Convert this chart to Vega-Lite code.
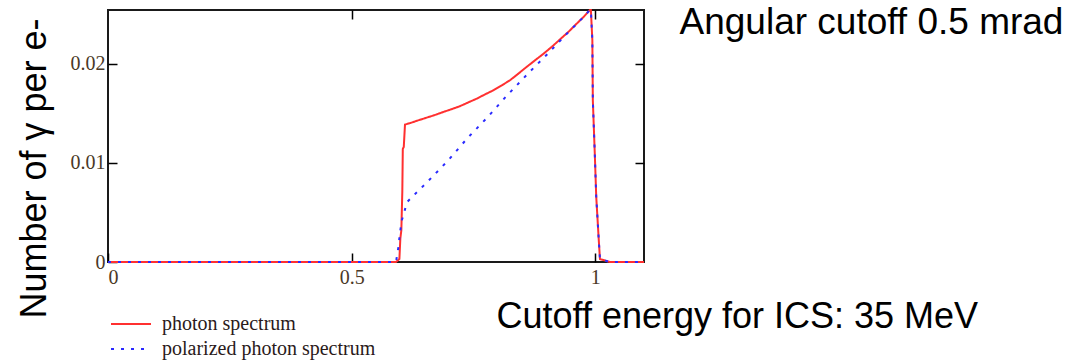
{
  "$schema": "https://vega.github.io/schema/vega-lite/v6.json",
  "width": 536,
  "height": 252,
  "autosize": {"type": "none"},
  "padding": {"left": 108, "top": 10, "right": 436, "bottom": 98},
  "background": "white",
  "config": {
    "view": {"stroke": "#1a1a1a", "strokeWidth": 2},
    "axis": {
      "grid": false,
      "domain": false,
      "tickColor": "#000000",
      "tickWidth": 1.5,
      "tickSize": -9,
      "labelFont": "Liberation Serif",
      "labelFontSize": 20,
      "labelColor": "#4a3826",
      "titleFont": "Liberation Sans",
      "titleFontSize": 36,
      "titleFontWeight": "normal",
      "titleColor": "#000000"
    }
  },
  "datasets": {
    "spec": [
      {"series": "photon spectrum", "e": 0, "n": 0},
      {"series": "photon spectrum", "e": 0.3, "n": 0},
      {"series": "photon spectrum", "e": 0.591, "n": 0},
      {"series": "photon spectrum", "e": 0.598, "n": 0.0003},
      {"series": "photon spectrum", "e": 0.6, "n": 0.0024},
      {"series": "photon spectrum", "e": 0.602, "n": 0.0032},
      {"series": "photon spectrum", "e": 0.604, "n": 0.0071},
      {"series": "photon spectrum", "e": 0.605, "n": 0.0114},
      {"series": "photon spectrum", "e": 0.607, "n": 0.0116},
      {"series": "photon spectrum", "e": 0.6095, "n": 0.01385},
      {"series": "photon spectrum", "e": 0.62, "n": 0.014},
      {"series": "photon spectrum", "e": 0.635, "n": 0.01425},
      {"series": "photon spectrum", "e": 0.654, "n": 0.01455},
      {"series": "photon spectrum", "e": 0.67, "n": 0.0148},
      {"series": "photon spectrum", "e": 0.688, "n": 0.01512},
      {"series": "photon spectrum", "e": 0.705, "n": 0.0154},
      {"series": "photon spectrum", "e": 0.722, "n": 0.0157},
      {"series": "photon spectrum", "e": 0.74, "n": 0.0161},
      {"series": "photon spectrum", "e": 0.757, "n": 0.01647},
      {"series": "photon spectrum", "e": 0.774, "n": 0.0169},
      {"series": "photon spectrum", "e": 0.791, "n": 0.01731},
      {"series": "photon spectrum", "e": 0.808, "n": 0.0178},
      {"series": "photon spectrum", "e": 0.825, "n": 0.01832},
      {"series": "photon spectrum", "e": 0.84, "n": 0.0189},
      {"series": "photon spectrum", "e": 0.855, "n": 0.0195},
      {"series": "photon spectrum", "e": 0.873, "n": 0.0202},
      {"series": "photon spectrum", "e": 0.894, "n": 0.0210},
      {"series": "photon spectrum", "e": 0.911, "n": 0.0217},
      {"series": "photon spectrum", "e": 0.928, "n": 0.02245},
      {"series": "photon spectrum", "e": 0.945, "n": 0.0232},
      {"series": "photon spectrum", "e": 0.962, "n": 0.02403},
      {"series": "photon spectrum", "e": 0.976, "n": 0.0247},
      {"series": "photon spectrum", "e": 0.989, "n": 0.0254},
      {"series": "photon spectrum", "e": 0.991, "n": 0.0254},
      {"series": "photon spectrum", "e": 0.994, "n": 0.02235},
      {"series": "photon spectrum", "e": 0.995, "n": 0.0163},
      {"series": "photon spectrum", "e": 0.999, "n": 0.01093},
      {"series": "photon spectrum", "e": 1.002, "n": 0.00655},
      {"series": "photon spectrum", "e": 1.007, "n": 0.00236},
      {"series": "photon spectrum", "e": 1.0096, "n": 0.0003},
      {"series": "photon spectrum", "e": 1.03, "n": 0},
      {"series": "photon spectrum", "e": 1.1, "n": 0},
      {"series": "polarized photon spectrum", "e": 0, "n": 0},
      {"series": "polarized photon spectrum", "e": 0.3, "n": 0},
      {"series": "polarized photon spectrum", "e": 0.591, "n": 0},
      {"series": "polarized photon spectrum", "e": 0.596, "n": 0.0015},
      {"series": "polarized photon spectrum", "e": 0.599, "n": 0.0029},
      {"series": "polarized photon spectrum", "e": 0.603, "n": 0.0042},
      {"series": "polarized photon spectrum", "e": 0.608, "n": 0.005},
      {"series": "polarized photon spectrum", "e": 0.613, "n": 0.006},
      {"series": "polarized photon spectrum", "e": 0.627, "n": 0.0067},
      {"series": "polarized photon spectrum", "e": 0.654, "n": 0.008},
      {"series": "polarized photon spectrum", "e": 0.697, "n": 0.01018},
      {"series": "polarized photon spectrum", "e": 0.738, "n": 0.0125},
      {"series": "polarized photon spectrum", "e": 0.778, "n": 0.01455},
      {"series": "polarized photon spectrum", "e": 0.818, "n": 0.01674},
      {"series": "polarized photon spectrum", "e": 0.863, "n": 0.01905},
      {"series": "polarized photon spectrum", "e": 0.904, "n": 0.02107},
      {"series": "polarized photon spectrum", "e": 0.945, "n": 0.02318},
      {"series": "polarized photon spectrum", "e": 0.97, "n": 0.0244},
      {"series": "polarized photon spectrum", "e": 0.989, "n": 0.0254},
      {"series": "polarized photon spectrum", "e": 0.991, "n": 0.0254},
      {"series": "polarized photon spectrum", "e": 0.994, "n": 0.02235},
      {"series": "polarized photon spectrum", "e": 0.995, "n": 0.0163},
      {"series": "polarized photon spectrum", "e": 0.999, "n": 0.01093},
      {"series": "polarized photon spectrum", "e": 1.002, "n": 0.00655},
      {"series": "polarized photon spectrum", "e": 1.007, "n": 0.00236},
      {"series": "polarized photon spectrum", "e": 1.0096, "n": 0.0003},
      {"series": "polarized photon spectrum", "e": 1.03, "n": 0},
      {"series": "polarized photon spectrum", "e": 1.1, "n": 0}
    ]
  },
  "data": {"name": "spec"},
  "layer": [
    {
      "mark": {"type": "line", "strokeWidth": 2},
      "encoding": {
        "x": {
          "field": "e",
          "type": "quantitative",
          "scale": {"domain": [0, 1.1], "nice": false, "zero": true},
          "axis": {
            "orient": "bottom",
            "values": [0, 0.5, 1],
            "format": "~g",
            "labelPadding": 14,
            "title": "Cutoff energy for ICS: 35 MeV",
            "titleX": 388,
            "titleY": 65,
            "titleAlign": "left",
            "titleAnchor": null,
            "titleBaseline": "alphabetic",
            "titleAngle": 0
          }
        },
        "y": {
          "field": "n",
          "type": "quantitative",
          "scale": {"domain": [0, 0.0254], "nice": false},
          "axis": {
            "orient": "left",
            "values": [0, 0.01, 0.02],
            "format": "~g",
            "labelPadding": 12,
            "title": "Number of γ per e-",
            "titleX": -63,
            "titleY": 158,
            "titleAngle": -90,
            "titleAlign": "center",
            "titleBaseline": "alphabetic"
          }
        },
        "color": {
          "field": "series",
          "type": "nominal",
          "scale": {
            "domain": ["photon spectrum", "polarized photon spectrum"],
            "range": ["#ff3030", "#2a2aff"]
          },
          "legend": {
            "orient": "none",
            "legendX": 12,
            "legendY": 303,
            "title": null,
            "padding": 0,
            "symbolType": "M-2,0H2",
            "symbolSize": 400,
            "symbolStrokeWidth": 2,
            "labelOffset": 20,
            "labelLimit": 400,
            "labelFont": "Liberation Serif",
            "labelFontSize": 20,
            "labelColor": "#2a1a1a",
            "rowPadding": 4
          }
        },
        "strokeDash": {
          "field": "series",
          "type": "nominal",
          "scale": {
            "domain": ["photon spectrum", "polarized photon spectrum"],
            "range": [[1, 0], [3, 7]]
          },
          "legend": {
            "orient": "none",
            "legendX": 12,
            "legendY": 303,
            "title": null,
            "padding": 0,
            "symbolType": "M-2,0H2",
            "symbolSize": 400,
            "symbolStrokeWidth": 2,
            "labelOffset": 20,
            "labelLimit": 400,
            "labelFont": "Liberation Serif",
            "labelFontSize": 20,
            "labelColor": "#2a1a1a",
            "rowPadding": 4
          }
        }
      }
    },
    {
      "mark": {"type": "line", "opacity": 0},
      "encoding": {
        "x": {
          "field": "e",
          "type": "quantitative",
          "axis": {
            "orient": "top",
            "values": [0.5, 1],
            "labels": false,
            "title": "Angular cutoff 0.5 mrad",
            "titleX": 571,
            "titleY": 23,
            "titleFontSize": 37,
            "titleAlign": "left",
            "titleAnchor": null,
            "titleBaseline": "alphabetic",
            "titleAngle": 0
          }
        },
        "y": {
          "field": "n",
          "type": "quantitative",
          "axis": {
            "orient": "right",
            "values": [0.01, 0.02],
            "labels": false,
            "title": null
          }
        },
        "detail": {"field": "series", "type": "nominal"}
      }
    }
  ],
  "resolve": {"axis": {"x": "independent", "y": "independent"}}
}
